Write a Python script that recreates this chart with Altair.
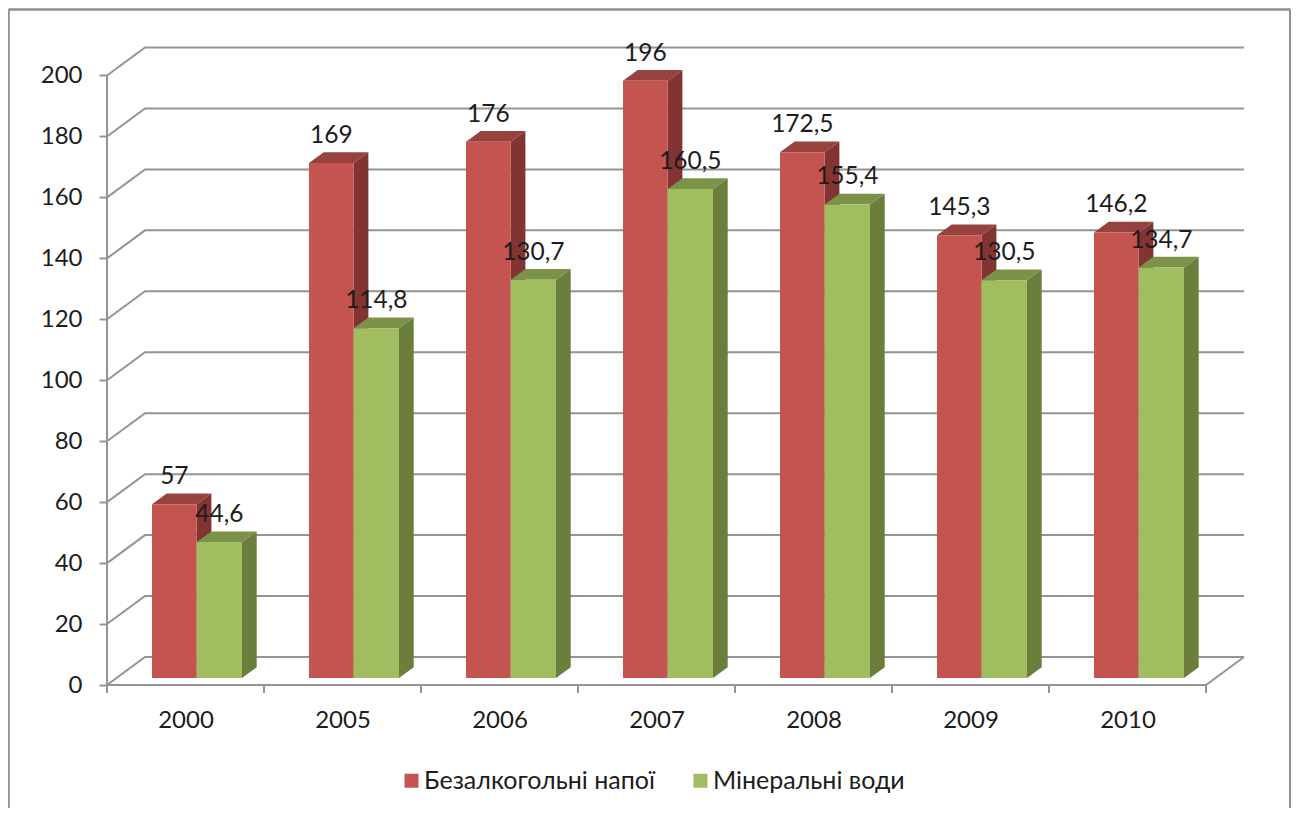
import altair as alt
import pandas as pd

years = ["2000", "2005", "2006", "2007", "2008", "2009", "2010"]
series_names = ["Безалкогольні напої", "Мінеральні води"]
soft_drinks = [57, 169, 176, 196, 172.5, 145.3, 146.2]
mineral_water = [44.6, 114.8, 130.7, 160.5, 155.4, 130.5, 134.7]
y_ticks = [0, 20, 40, 60, 80, 100, 120, 140, 160, 180, 200]

FONT = "Lato"
LEGEND_FONT = "Lato"
GRID = "#949494"
TEXT = "#1c1c1c"
RED = dict(front="#C3544F", top="#96423F", side="#823432")
GREEN = dict(front="#A0BE5F", top="#7C9249", side="#6B7E3C")

# Chart frame and pseudo-3D projection, expressed in scale units
W, H = 1283, 800
ORIGIN_X, ORIGIN_Y = 99, 677       # chart pixels of category 0 / value 0
PX_U, PX_V = 157, 3.0475           # pixels per category / per value unit
WALL_U, WALL_V = 38 / PX_U, 28 / PX_V   # depth of the floor
BAR_U, BAR_V = 14.7 / PX_U, 10.7 / PX_V # depth of a bar
BASE_V = 7 / PX_V                  # bars stand a little behind the front edge
LEFT_U = 45 / PX_U
RED_W, GREEN_W = 44.7 / PX_U, 45.3 / PX_U

x_scale = alt.Scale(domain=[-ORIGIN_X / PX_U, (W - ORIGIN_X) / PX_U], nice=False, zero=False)
y_scale = alt.Scale(domain=[(ORIGIN_Y - H) / PX_V, ORIGIN_Y / PX_V], nice=False, zero=False)
n = len(years)

x_axis = alt.Axis(
    orient="bottom", offset=-(H - ORIGIN_Y), domain=False, grid=False, ticks=False,
    values=[i + 0.5 for i in range(n)],
    labelExpr="['" + "','".join(years) + "'][floor(datum.value)]",
    labelFont=FONT, labelFontSize=24, labelColor=TEXT, labelPadding=23,
    labelFlush=False, labelOverlap=False, title=None,
)
y_axis = alt.Axis(
    orient="left", offset=-ORIGIN_X, domain=False, grid=False, values=y_ticks,
    tickSize=8, tickWidth=2, tickColor=GRID,
    labelFont=FONT, labelFontSize=24, labelColor=TEXT, labelPadding=17,
    labelFlush=False, labelOverlap=False, title=None,
)


def X(field="u:Q"):
    return alt.X(field, scale=x_scale, axis=x_axis)


def Y(field="v:Q"):
    return alt.Y(field, scale=y_scale, axis=y_axis)


# gridlines on the side and back walls
grid_rows = []
for t in y_ticks:
    grid_rows += [
        dict(k=t, o=0, u=0, v=t),
        dict(k=t, o=1, u=WALL_U, v=t + WALL_V),
        dict(k=t, o=2, u=n + WALL_U, v=t + WALL_V),
    ]
grid_rows += [
    dict(k=-1, o=0, u=0, v=0),
    dict(k=-1, o=1, u=n, v=0),
    dict(k=-1, o=2, u=n + WALL_U, v=WALL_V),
]

grid = alt.Chart(pd.DataFrame(grid_rows)).mark_line(color=GRID, strokeWidth=2).encode(
    x=X(), y=Y(), detail="k:N", order="o:Q"
)

axis_y = alt.Chart(pd.DataFrame(dict(u=[0, 0], v=[-8 / PX_V, 200]))).mark_line(
    color=GRID, strokeWidth=2
).encode(x=X(), y=Y())

x_tick_df = pd.DataFrame(dict(u=list(range(n + 1)), v=[0.0] * (n + 1), v2=[-8 / PX_V] * (n + 1)))
x_ticks = alt.Chart(x_tick_df).mark_rule(color=GRID, strokeWidth=2).encode(
    x=X(), y=Y(), y2="v2:Q"
)


def bar_layers(values, left, width, colors, name):
    front, side, top = [], [], []
    for i, val in enumerate(values):
        x0 = i + left
        x1 = x0 + width
        b = BASE_V
        t = val + BASE_V
        front.append(dict(u=x0, u2=x1, v=b, v2=t, series=name))
        side += [
            dict(i=i, u=x1, lo=b, hi=t),
            dict(i=i, u=x1 + BAR_U, lo=b + BAR_V, hi=t + BAR_V),
        ]
        top += [
            dict(i=i, u=x0, lo=t, hi=t),
            dict(i=i, u=x0 + BAR_U, lo=t, hi=t + BAR_V),
            dict(i=i, u=x1, lo=t, hi=t + BAR_V),
            dict(i=i, u=x1 + BAR_U, lo=t + BAR_V, hi=t + BAR_V),
        ]

    def face(rows, color):
        return alt.Chart(pd.DataFrame(rows)).mark_area(fill=color, orient="vertical").encode(
            x=X(),
            y=Y("lo:Q"),
            y2=alt.Y2("hi"),
            detail="i:N",
        )

    fr = alt.Chart(pd.DataFrame(front)).mark_rect(strokeWidth=0).encode(
        x=X(),
        x2="u2:Q",
        y=Y(),
        y2="v2:Q",
        color=alt.Color(
            "series:N",
            sort=series_names,
            scale=alt.Scale(domain=series_names, range=[RED["front"], GREEN["front"]]),
            legend=alt.Legend(
                orient="none", legendX=391, legendY=760, direction="horizontal", title=None,
                symbolType="square", symbolSize=196, symbolStrokeWidth=0,
                labelFont=LEGEND_FONT, labelFontSize=25, labelColor=TEXT, labelLimit=400,
                labelOffset=0, columnPadding=33, values=series_names,
            ),
        ),
    )
    return [face(side, colors["side"]), face(top, colors["top"]), fr]


def fmt(v):
    return f"{v:g}".replace(".", ",")


label_rows = []
for i in range(n):
    label_rows.append(dict(u=i + LEFT_U + RED_W / 2, v=soft_drinks[i] + BASE_V, t=fmt(soft_drinks[i])))
    label_rows.append(dict(u=i + LEFT_U + RED_W + GREEN_W / 2, v=mineral_water[i] + BASE_V, t=fmt(mineral_water[i])))
labels = alt.Chart(pd.DataFrame(label_rows)).mark_text(
    font=FONT, fontSize=24.5, color=TEXT, dy=-20, baseline="alphabetic", align="center"
).encode(x=X(), y=Y(), text="t:N")

frame_df = pd.DataFrame(dict(
    u=[x_scale.domain[0] + 0.5 / PX_U, x_scale.domain[1] - 0.7 / PX_U],
    v=[y_scale.domain[1] - 1.5 / PX_V] * 2,
    v0=[y_scale.domain[0]] * 2,
))
frame_sides = alt.Chart(frame_df).mark_rule(color="#8e8e8e", strokeWidth=2.5).encode(
    x=X(), y=Y(), y2="v0:Q"
)
frame_top = alt.Chart(frame_df).mark_line(color="#8e8e8e", strokeWidth=2.5).encode(x=X(), y=Y())

red_layers = bar_layers(soft_drinks, LEFT_U, RED_W, RED, series_names[0])
green_layers = bar_layers(mineral_water, LEFT_U + RED_W, GREEN_W, GREEN, series_names[1])

chart = alt.layer(
    frame_sides, frame_top, grid, x_ticks, axis_y,
    *red_layers, *green_layers, labels,
).properties(
    width=W, height=H, padding=0, background="white",
    autosize=alt.AutoSizeParams(type="none"),
).configure_view(stroke=None)

chart.save("out.html", embed_options={"renderer": "svg", "actions": False})
